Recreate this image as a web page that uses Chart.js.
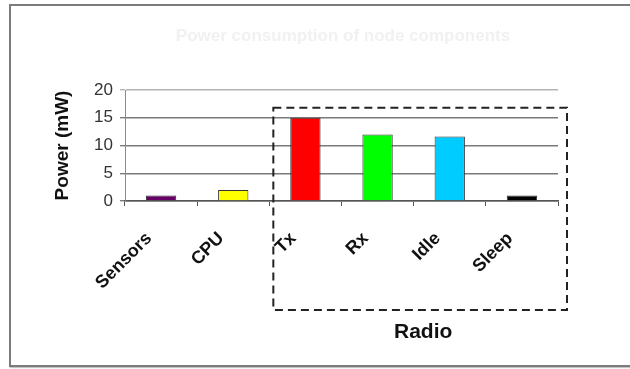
<!DOCTYPE html>
<html>
<head>
<meta charset="utf-8">
<script src="https://cdn.jsdelivr.net/npm/chart.js@4/dist/chart.umd.min.js"></script>
<style>
  html, body { margin: 0; padding: 0; background: #ffffff; }
  #wrap { position: relative; width: 630px; height: 369px; overflow: hidden; }
  #frame {
    position: absolute; left: 9px; top: 4px; width: 640px; height: 359px;
    border: 2px solid #7c7c7c; box-shadow: 1px 1px 1px #c4c4c4; box-sizing: content-box;
  }
  canvas { position: absolute; left: 0; top: 0; }
</style>
</head>
<body>
<div id="wrap">
  <div id="frame"></div>
  <canvas id="c" width="630" height="369"></canvas>
</div>
<script>
// Power draw of each node component, in mW
const categories = ['Sensors', 'CPU', 'Tx', 'Rx', 'Idle', 'Sleep'];
const powerMw = [1, 2, 15, 12, 11.6, 1];
const barColors = ['#660066', '#ffff00', '#ff0000', '#00ff00', '#00ccff', '#000000'];
const yTicks = [0, 5, 10, 15, 20];
// components that belong to the radio, grouped in a dashed box
const radioGroup = ['Tx', 'Rx', 'Idle', 'Sleep'];
const chartTitle = 'Power consumption of node components';
const groupLabel = 'Radio';

const FONT = '"Liberation Sans", Arial, sans-serif';

// Faint title, dashed box round the radio states and its label
const decorations = {
  id: 'decorations',
  afterDraw(chart) {
    const ctx = chart.ctx;
    const x = chart.scales.x, y = chart.scales.y;
    const area = chart.chartArea;

    ctx.save();
    ctx.fillStyle = '#f1f1f1';
    ctx.font = 'bold 17px ' + FONT;
    ctx.textAlign = 'center';
    ctx.textBaseline = 'middle';
    ctx.fillText(chartTitle, 343, 36);

    const first = categories.indexOf(radioGroup[0]);
    const last = categories.indexOf(radioGroup[radioGroup.length - 1]);
    const left = (x.getPixelForValue(first) + x.getPixelForValue(first - 1)) / 2 + 4;
    const right = x.getPixelForValue(last) + (x.getPixelForValue(last) - x.getPixelForValue(last - 1)) / 2 + 9;
    const top = y.getPixelForValue(16.8);
    const bottom = area.bottom + 109;

    ctx.strokeStyle = '#222222';
    ctx.lineWidth = 2;
    ctx.setLineDash([8, 5]);
    ctx.strokeRect(left, top, right - left, bottom - top);
    ctx.setLineDash([]);

    ctx.fillStyle = '#111111';
    ctx.font = 'bold 21px ' + FONT;
    ctx.fillText(groupLabel, (left + right) / 2 + 3, bottom + 22);
    ctx.restore();
  }
};

new Chart(document.getElementById('c'), {
  type: 'bar',
  data: {
    labels: categories,
    datasets: [{
      data: powerMw,
      backgroundColor: barColors,
      borderColor: '#333333',
      borderWidth: 1,
      categoryPercentage: 1,
      barPercentage: 0.42
    }]
  },
  options: {
    responsive: false,
    animation: false,
    layout: { padding: { left: 51, top: 90, right: 72, bottom: 68 } },
    plugins: { legend: { display: false }, tooltip: { enabled: false } },
    scales: {
      x: {
        afterFit(scale) { scale.height = 100; },
        grid: {
          offset: true, drawOnChartArea: false, drawTicks: true,
          tickLength: 5, color: '#555555'
        },
        border: { display: true, color: '#555555', width: 1.5 },
        ticks: {
          color: '#111111', font: { family: FONT, size: 18, weight: 'bold' },
          minRotation: 45, maxRotation: 45, padding: 22, labelOffset: -12, autoSkip: false
        }
      },
      y: {
        min: 0, max: 20,
        afterFit(scale) { scale.width = 74; },
        afterBuildTicks(scale) { scale.ticks = yTicks.map(v => ({ value: v })); },
        grid: {
          color: c => (c.tick && c.tick.value === 20 ? '#b4b4b4' : '#7a7a7a'),
          tickLength: 5, lineWidth: 1.4
        },
        border: { display: true, color: '#8a8a8a', width: 1 },
        ticks: { color: '#333333', font: { family: FONT, size: 17 }, padding: 7 },
        title: {
          display: true, text: 'Power (mW)', color: '#111111',
          font: { family: FONT, size: 19, weight: 'bold' }, padding: { top: 0, bottom: 0 }
        }
      }
    }
  },
  plugins: [decorations]
});
</script>
</body>
</html>
